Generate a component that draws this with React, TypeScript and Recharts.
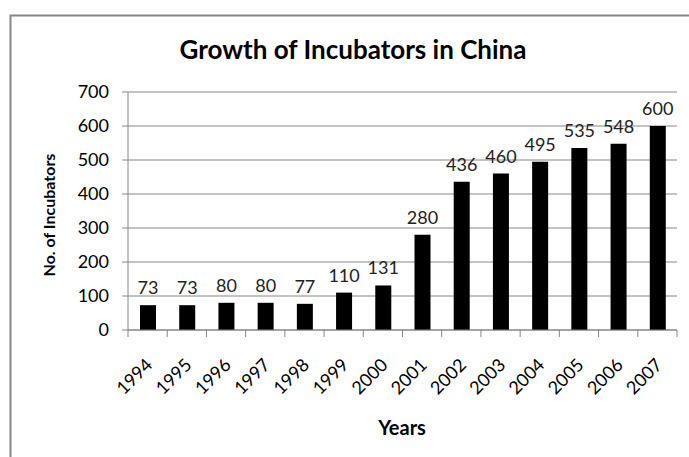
import { Bar, BarChart, CartesianGrid, LabelList, XAxis, YAxis } from "recharts";

const years = ["1994", "1995", "1996", "1997", "1998", "1999", "2000", "2001", "2002", "2003", "2004", "2005", "2006", "2007"];
const incubators = [73, 73, 80, 80, 77, 110, 131, 280, 436, 460, 495, 535, 548, 600];
const yTicks = [0, 100, 200, 300, 400, 500, 600, 700];

const data = years.map((year, i) => ({ year, count: incubators[i] }));

const W = 689;
const H = 457;
const PLOT_LEFT = 128;
const PLOT_RIGHT = 677;
const BAND = (PLOT_RIGHT - PLOT_LEFT) / years.length;
const FONT = "Lato, 'Open Sans', sans-serif";
const GRID = "#868686";

function YearTick(props: any) {
  const { x, index } = props;
  const axisY = 330;
  const ax = x + 6;
  const ay = axisY + 36;
  return (
    <g>
      <line x1={x - BAND / 2} y1={axisY} x2={x - BAND / 2} y2={axisY + 7} stroke={GRID} />
      {index === years.length - 1 && (
        <line x1={x + BAND / 2} y1={axisY} x2={x + BAND / 2} y2={axisY + 7} stroke={GRID} />
      )}
      <text
        x={ax}
        y={ay}
        transform={`rotate(-45 ${ax} ${ay})`}
        textAnchor="end"
        fontSize={18}
        fontFamily={FONT}
        fill="#000"
      >
        {props.payload.value}
      </text>
    </g>
  );
}

export default function App() {
  return (
    <div style={{ position: "absolute", left: 0, top: 0, width: W, height: H, overflow: "hidden", background: "#fff" }}>
      <BarChart width={W} height={H} data={data} margin={{ top: 92, right: W - PLOT_RIGHT, bottom: 0, left: 0 }}>
        <CartesianGrid stroke={GRID} vertical={false} />
        <XAxis
          dataKey="year"
          height={127}
          axisLine={{ stroke: GRID }}
          tickLine={false}
          interval={0}
          tick={<YearTick />}
        />
        <YAxis
          width={PLOT_LEFT}
          domain={[0, 700]}
          ticks={yTicks}
          axisLine={{ stroke: GRID }}
          tickLine={{ stroke: GRID }}
          tickSize={6}
          tickMargin={13}
          tick={{ fill: "#000", fontSize: 18, fontFamily: FONT }}
        />
        <Bar dataKey="count" fill="#000" barSize={16} isAnimationActive={false}>
          <LabelList dataKey="count" position="top" offset={11} fill="#222" fontSize={18} fontFamily={FONT} />
        </Bar>
      </BarChart>
      <svg width={W} height={H} style={{ position: "absolute", left: 0, top: 0, pointerEvents: "none" }}>
        <rect x={10.5} y={15.5} width={720} height={480} fill="none" stroke={GRID} strokeWidth={2} />
        <text x={353} y={59} textAnchor="middle" fontSize={26} fontWeight="bold" fontFamily={FONT} fill="#000">
          Growth of Incubators in China
        </text>
        <text
          transform="translate(55 215) rotate(-90)"
          textAnchor="middle"
          fontSize={16}
          fontWeight="bold"
          fontFamily={FONT}
          fill="#000"
        >
          No. of Incubators
        </text>
        <text x={402} y={435} textAnchor="middle" fontSize={20} fontWeight="bold" fontFamily={FONT} fill="#000">
          Years
        </text>
      </svg>
    </div>
  );
}
